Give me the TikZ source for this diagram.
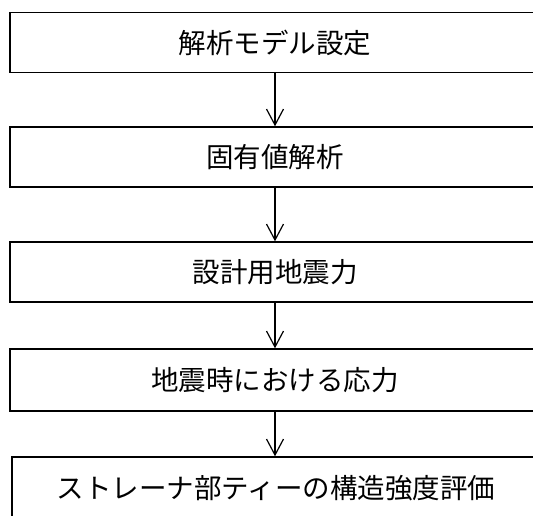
\documentclass[tikz,border=0pt]{standalone}
\usepackage{fontspec}
\newfontfamily\jp{Noto Sans CJK JP}
\usetikzlibrary{arrows.meta}

\tikzset{
  stepbox/.style={draw, line width=1.4pt, rectangle, minimum width=530pt, minimum height=60pt,
    inner sep=0pt, font=\jp\fontsize{27.5}{30}\selectfont},
  flow/.style={line width=1.2pt, -{Straight Barb[length=16pt,width=17pt,line width=1.2pt]}}
}

\begin{document}
\begin{tikzpicture}[x=1pt,y=1pt]
      \useasboundingbox (0,0) rectangle (533,515);
      \clip (0,0) rectangle (533,515);
      \fill[white] (0,0) rectangle (533,515);

      \node[stepbox] (model)  at (275,472.3) {解析モデル設定};
      \node[stepbox] (eigen)  at (275,358)   {固有値解析};
      \node[stepbox] (force)  at (275,243)   {設計用地震力};
      \node[stepbox, minimum height=62pt] (stress) at (275,135) {地震時における応力};
      \node[stepbox, minimum width=528pt, minimum height=63pt] (eval) at (276,26.5) {ストレーナ部ティーの構造強度評価};

      \draw[flow] (model) -- (eigen);
      \draw[flow] (eigen) -- (force);
      \draw[flow] (force) -- (stress);
      \draw[flow] (stress.south) -- (stress.south |- eval.north);
    \end{tikzpicture}
\end{document}
